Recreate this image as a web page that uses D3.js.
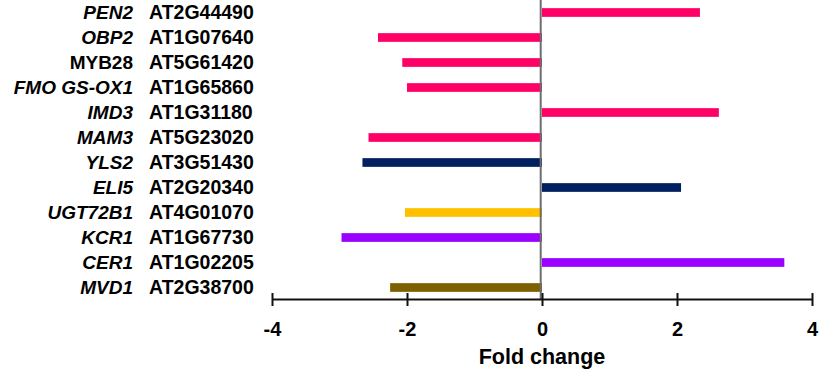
<!DOCTYPE html>
<head>
  <meta charset="utf-8">
  <script src="https://d3js.org/d3.v7.min.js"></script>
  <style>
    body { margin:0; background-color: white; }
    text { font-family: 'Liberation Sans', Arial, sans-serif; font-weight: bold; fill: black; }
    .gene { font-style: italic; }
  </style>
</head>
<body>
  <svg id="chart" width="821" height="372"></svg>
  <script>
  // gene symbols (italic unless listed in plainNames), loci, fold change
  var genes = ["PEN2", "OBP2", "MYB28", "FMO GS-OX1", "IMD3", "MAM3", "YLS2", "ELI5", "UGT72B1", "KCR1", "CER1", "MVD1"];
  var loci = ["AT2G44490", "AT1G07640", "AT5G61420", "AT1G65860", "AT1G31180", "AT5G23020", "AT3G51430", "AT2G20340", "AT4G01070", "AT1G67730", "AT1G02205", "AT2G38700"];
  var foldChange = [2.34, -2.43, -2.07, -2.0, 2.62, -2.57, -2.66, 2.06, -2.03, -2.97, 3.59, -2.25];
  var groups = ["g1", "g1", "g1", "g1", "g1", "g1", "g2", "g2", "g3", "g4", "g4", "g5"];
  var plainNames = ["MYB28"];
  var xTicks = [-4, -2, 0, 2, 4];

  var svg = d3.select("#chart");

  var x = d3.scaleLinear().domain([-4, 4]).range([272, 812]);
  var y = d3.scaleBand().domain(genes).range([0, 300]);
  var color = d3.scaleOrdinal()
      .domain(["g1", "g2", "g3", "g4", "g5"])
      .range(["#FF0066", "#002060", "#FFC000", "#9900FF", "#7F6000"]);

  var barH = 8.7;

  var data = genes.map(function(g, i) {
    return {gene: g, locus: loci[i], value: foldChange[i], group: groups[i]};
  });

  // bars
  svg.selectAll(".bar")
      .data(data)
    .enter().append("rect")
      .attr("class", "bar")
      .attr("x", function(d) { return Math.min(x(0), x(d.value)); })
      .attr("width", function(d) { return Math.abs(x(d.value) - x(0)); })
      .attr("y", function(d) { return y(d.gene) + (y.bandwidth() - barH) / 2; })
      .attr("height", barH)
      .style("fill", function(d) { return color(d.group); });

  // zero line
  svg.append("line")
      .attr("x1", x(0) - 1.3).attr("x2", x(0) - 1.3)
      .attr("y1", 0).attr("y2", 299)
      .style("stroke", "#6e6e6e")
      .style("stroke-width", 2);

  // labels
  svg.selectAll(".gene")
      .data(data)
    .enter().append("text")
      .attr("class", function(d) { return plainNames.indexOf(d.gene) < 0 ? "gene" : "plain"; })
      .attr("x", 133)
      .attr("y", function(d) { return y(d.gene) + y.bandwidth() / 2 + 6.5; })
      .style("text-anchor", "end")
      .style("font-size", "19px")
      .text(function(d) { return d.gene; });

  svg.selectAll(".locus")
      .data(data)
    .enter().append("text")
      .attr("class", "locus")
      .attr("x", 149)
      .attr("y", function(d) { return y(d.gene) + y.bandwidth() / 2 + 6.5; })
      .style("font-size", "19.5px")
      .text(function(d) { return d.locus; });

  // x axis
  var axis = svg.append("g")
      .attr("transform", "translate(0,299)")
      .call(d3.axisBottom(x).tickValues(xTicks).tickSizeInner(7).tickSizeOuter(0).tickPadding(16)
        .tickFormat(function(d) { return d < 0 ? "-" + Math.abs(d) : d; }));
  axis.select(".domain").style("stroke", "#111").style("stroke-width", 2);
  axis.selectAll(".tick line").attr("y1", -6).style("stroke", "#111").style("stroke-width", 2);
  axis.selectAll(".tick text")
      .style("font-size", "20px")
      .style("font-family", "'Liberation Sans', Arial, sans-serif")
      .style("font-weight", "bold");

  svg.append("text")
      .attr("x", x(0))
      .attr("y", 364)
      .style("text-anchor", "middle")
      .style("font-size", "21.5px")
      .text("Fold change");
  </script>
</body>
